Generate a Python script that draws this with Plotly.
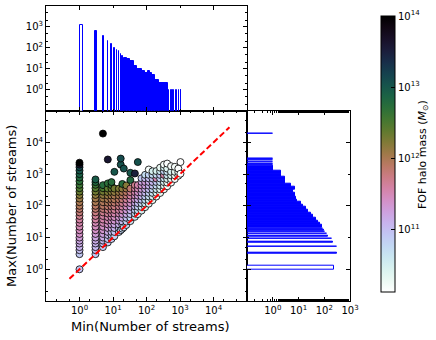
import math
import plotly.graph_objects as go

# ---------------- data ----------------
# y = x reference line
diag = [0.5, 3e4]

# scatter, grouped by Min(Number of streams)
col_min = [1, 3, 5, 7, 9, 11, 15, 17, 19, 21, 25, 33, 45, 55, 71, 91, 117,
           151, 197, 255, 331, 415, 541, 701, 891, 1031]
col_max = [
    [1, 3, 4, 5, 6.5, 8, 10, 13, 17, 22, 29, 37, 48, 62, 80, 100, 130, 170, 220,
     280, 360, 460, 600, 780, 1000, 1300, 1650, 2000, 2300],
    [3, 4, 5, 6.5, 8, 10, 13, 17, 22, 29, 37, 48, 62, 80, 100, 130, 170, 220,
     280, 360, 460, 560, 680],
    [5, 6.5, 8, 10, 13, 17, 22, 29, 37, 48, 62, 80, 100, 130, 170, 220, 280,
     360, 450, 19000],
    [7, 9, 12, 15, 20, 26, 34, 44, 57, 74, 96, 125, 160, 210, 270, 350, 510, 2900],
    [9, 12, 15, 20, 26, 34, 44, 57, 74, 96, 125, 160, 210, 270, 350, 450, 560],
    [11, 15, 20, 26, 34, 44, 57, 74, 96, 125, 160, 210, 270, 350, 1180],
    [15, 20, 26, 34, 44, 57, 74, 96, 125, 160, 210, 270, 350],
    [17, 2000, 3100],
    [19, 25, 32, 42, 55, 72, 94, 122, 160, 210, 270, 350, 490],
    [21, 1500],
    [25, 32, 42, 55, 72, 94, 122, 160, 210, 270, 350, 440],
    [33, 42, 55, 72, 94, 122, 160, 210, 270, 350, 650, 1100],
    [45, 57, 74, 96, 125, 160, 210, 270, 350, 450, 1050],
    [55, 72, 94, 122, 160, 210, 270, 350, 450, 2400],
    [71, 92, 120, 155, 200, 260, 340, 440, 570, 740],
    [91, 118, 153, 198, 257, 334, 434, 565, 735, 950],
    [117, 152, 198, 257, 334, 434, 565, 735, 955, 1400],
    [151, 196, 255, 331, 430, 560, 730, 950, 1230],
    [197, 256, 333, 433, 563, 732, 950, 1250],
    [255, 331, 430, 560, 728, 946, 1230, 1600],
    [331, 430, 560, 728, 946, 1230, 1600, 2000],
    [415, 540, 700, 910, 1180, 1500, 2150],
    [541, 700, 910, 1180, 1780],
    [701, 910, 1180, 1700],
    [891, 1150, 1500],
    [1031, 2400],
]
# log10 of FOF halo mass for each point above
col_mass = [
    [10.95, 10.9, 11.0, 11.1, 11.15, 11.2, 11.3, 11.4, 11.45, 11.5, 11.55, 11.6,
     11.7, 11.8, 11.85, 11.95, 12.0, 12.1, 12.2, 12.35, 12.5, 12.6, 12.7, 12.8,
     12.9, 13.0, 13.15, 13.6, 14.0],
    [10.9, 11.0, 11.05, 11.1, 11.15, 11.2, 11.3, 11.4, 11.45, 11.5, 11.6, 11.65,
     11.75, 11.85, 11.9, 12.0, 12.05, 12.15, 12.3, 12.45, 12.6, 12.8, 12.95],
    [10.9, 11.0, 11.05, 11.15, 11.25, 11.35, 11.4, 11.5, 11.55, 11.6, 11.7, 11.8,
     11.9, 11.95, 12.05, 12.15, 12.3, 12.5, 12.75, 14.0],
    [10.85, 10.95, 11.05, 11.15, 11.3, 11.4, 11.5, 11.55, 11.65, 11.75, 11.85,
     11.95, 12.0, 12.1, 12.25, 12.4, 12.7, 13.6],
    [10.85, 10.95, 11.05, 11.2, 11.3, 11.4, 11.5, 11.6, 11.7, 11.8, 11.9, 11.95,
     12.05, 12.2, 12.35, 12.6, 12.75],
    [10.8, 10.95, 11.1, 11.2, 11.35, 11.45, 11.55, 11.65, 11.75, 11.85, 11.95,
     12.0, 12.15, 12.3, 13.0],
    [10.8, 10.95, 11.1, 11.25, 11.35, 11.5, 11.6, 11.7, 11.8, 11.9, 12.0, 12.1, 12.25],
    [10.8, 13.05, 13.1],
    [10.75, 10.9, 11.05, 11.2, 11.35, 11.5, 11.6, 11.7, 11.8, 11.9, 12.0, 12.15, 12.75],
    [10.75, 13.05],
    [10.7, 10.85, 11.0, 11.15, 11.3, 11.45, 11.55, 11.65, 11.8, 11.9, 12.05, 12.2],
    [10.65, 10.8, 10.95, 11.1, 11.25, 11.4, 11.5, 11.6, 11.7, 11.85, 12.8, 13.0],
    [10.6, 10.75, 10.9, 11.05, 11.2, 11.35, 11.45, 11.55, 11.6, 11.7, 13.5],
    [10.55, 10.7, 10.85, 11.0, 11.15, 11.3, 11.4, 11.5, 11.55, 13.05],
    [10.5, 10.65, 10.8, 10.95, 11.1, 11.2, 11.3, 11.4, 11.2, 10.9],
    [10.45, 10.6, 10.75, 10.9, 11.05, 11.15, 11.25, 11.3, 11.0, 10.7],
    [10.4, 10.55, 10.7, 10.85, 11.0, 11.1, 11.15, 11.0, 10.8, 10.2],
    [10.35, 10.5, 10.65, 10.8, 10.95, 11.05, 10.95, 10.75, 10.5],
    [10.3, 10.45, 10.6, 10.75, 10.9, 11.5, 10.7, 10.45],
    [10.28, 10.4, 10.55, 10.7, 10.85, 10.9, 10.6, 10.3],
    [10.25, 10.35, 10.5, 10.65, 11.6, 10.8, 10.5, 10.2],
    [10.2, 10.3, 10.45, 10.6, 10.65, 10.4, 10.15],
    [10.2, 10.3, 10.45, 10.5, 10.2],
    [10.15, 10.25, 10.35, 10.2],
    [10.15, 10.2, 10.15],
    [10.12, 10.12],
]

# histogram of Min(Number of streams): bin edges and counts
min_bin_lo = [1, 3, 5, 7, 9, 11, 13, 15, 17, 19, 21, 27, 33, 41, 51, 75, 91, 111,
              127, 141, 181, 241, 465, 521, 591, 661, 741, 821, 931, 1041, 1101]
min_bin_hi = [1.3, 3.3, 5.3, 7.3, 9.3, 11.3, 13.3, 15.3, 17.3, 19.3, 27, 33, 41, 51,
              75, 91, 111, 127, 141, 181, 241, 441, 471, 527, 597, 667, 747, 827,
              937, 1047, 1107]
min_counts = [1260, 660, 375, 215, 155, 103, 79, 71, 53, 41, 34, 28, 23, 13, 10,
              8, 6, 8, 6, 5, 3, 2, 1, 1, 1, 1, 1, 1, 1, 1, 1]

# histogram of Max(Number of streams)
max_bin_lo = [1, 3, 5, 7, 9, 11, 13, 15, 17, 19, 21, 25, 29, 35, 41, 51, 61, 75, 91,
              111, 131, 161, 201, 261, 321, 401, 501, 651, 851, 1051, 1301, 1921,
              2161, 2441, 2751, 3101, 19501]
max_bin_hi = [1.3, 3.3, 5.3, 7.3, 9.3, 11.3, 13.3, 15.3, 17.3, 19.3, 25, 29, 35, 41,
              51, 61, 75, 91, 111, 131, 161, 201, 261, 321, 401, 501, 651, 851,
              1051, 1301, 1801, 1931, 2171, 2451, 2761, 3111, 19511]
max_counts = [230, 305, 325, 215, 196, 140, 125, 110, 100, 90, 83, 70, 58, 46, 38,
              30, 24, 19, 15, 12, 9, 8, 7, 6, 7, 5, 3, 3, 2, 2, 1, 1, 1, 1, 1, 1, 1]

decades = [1, 10, 100, 1000, 10000]
decade_text = ["10<sup>0</sup>", "10<sup>1</sup>", "10<sup>2</sup>",
               "10<sup>3</sup>", "10<sup>4</sup>"]
mass_ticks = [11, 12, 13, 14]
mass_text = ["10<sup>11</sup>", "10<sup>12</sup>", "10<sup>13</sup>", "10<sup>14</sup>"]


def cubehelix_r(n=25):
    # matplotlib's default cubehelix, reversed (white -> black)
    scale = []
    for i in range(n):
        t = i / (n - 1)
        lam = 1 - t
        phi = 2 * math.pi * (0.5 / 3 - 1.5 * lam)
        a = lam * (1 - lam) / 2
        c, s = math.cos(phi), math.sin(phi)
        r = lam + a * (-0.14861 * c + 1.78277 * s)
        g = lam + a * (-0.29227 * c - 0.90649 * s)
        b = lam + a * (1.97294 * c)
        rgb = [int(round(255 * min(1, max(0, v)))) for v in (r, g, b)]
        scale.append([t, "rgb(%d,%d,%d)" % tuple(rgb)])
    return scale


xs, ys, ms = [], [], []
for xv, yl, ml in zip(col_min, col_max, col_mass):
    xs += [xv] * len(yl)
    ys += yl
    ms += ml

W, H = 436, 340
font = dict(family="DejaVu Sans", size=10, color="black")
label_font = dict(family="DejaVu Sans", size=13, color="black")

fig = go.Figure()

fig.add_trace(go.Scatter(
    x=xs, y=ys, mode="markers", xaxis="x", yaxis="y",
    marker=dict(
        size=7, color=ms, colorscale=cubehelix_r(), cmin=10.12, cmax=14,
        line=dict(color="black", width=0.8),
        colorbar=dict(
            x=371 / W, xanchor="left", y=1 - 6 / H, yanchor="top",
            len=296 / H, lenmode="fraction", thickness=14, thicknessmode="pixels",
            outlinecolor="black", outlinewidth=1,
            tickvals=mass_ticks, ticktext=mass_text, ticks="inside",
            ticklen=4, tickcolor="black", tickfont=font,
        ),
    ),
    showlegend=False,
))

fig.add_trace(go.Scatter(
    x=diag, y=diag, mode="lines", xaxis="x", yaxis="y",
    line=dict(color="red", width=2, dash="6px,3px"), showlegend=False,
))

fill_top = ["white"] + ["blue"] * (len(min_counts) - 1)
fig.add_trace(go.Bar(
    x=min_bin_lo, y=min_counts,
    width=[h - l for l, h in zip(min_bin_lo, min_bin_hi)], offset=0,
    xaxis="x2", yaxis="y2",
    marker=dict(color=fill_top, line=dict(color="blue", width=1)),
    showlegend=False,
))

fill_right = ["white"] + ["blue"] * (len(max_counts) - 1)
fig.add_trace(go.Bar(
    y=max_bin_lo, x=max_counts, orientation="h",
    width=[h - l for l, h in zip(max_bin_lo, max_bin_hi)], offset=0,
    xaxis="x3", yaxis="y3",
    marker=dict(color=fill_right, line=dict(color="blue", width=1)),
    showlegend=False,
))

ax = dict(
    type="log", showline=True, linecolor="black", linewidth=1, mirror="allticks",
    ticks="inside", ticklen=4, tickcolor="black", showgrid=False, zeroline=False,
    tickfont=font,
    minor=dict(ticks="inside", ticklen=2, tickcolor="black", showgrid=False),
)

x_main = [46 / W, 247 / W]
y_main = [1 - 301 / H, 1 - 110.7 / H]

fig.update_layout(
    width=W, height=H, autosize=False,
    margin=dict(l=0, r=0, t=0, b=0),
    paper_bgcolor="white", plot_bgcolor="white",
    template="none",
    bargap=0,
    xaxis=dict(ax, domain=x_main, range=[-1, 5], anchor="y",
               tickvals=decades, ticktext=decade_text),
    yaxis=dict(ax, domain=y_main, range=[-1, 5], anchor="x",
               tickvals=decades, ticktext=decade_text),
    xaxis2=dict(ax, domain=x_main, range=[-1, 5], anchor="y2",
                showticklabels=False),
    yaxis2=dict(ax, domain=[1 - 110.7 / H, 1 - 6 / H], range=[-1, 4], anchor="x2",
                tickvals=decades[:4], ticktext=decade_text[:4]),
    xaxis3=dict(ax, domain=[247 / W, 350 / W], range=[-1, 3], anchor="y3",
                tickvals=decades[:4], ticktext=decade_text[:4]),
    yaxis3=dict(ax, domain=y_main, range=[-1, 5], anchor="x3",
                showticklabels=False),
    annotations=[
        dict(text="Min(Number of streams)", xref="paper", yref="paper",
             x=150 / W, y=1 - 326.5 / H, xanchor="center", yanchor="middle",
             showarrow=False, font=label_font),
        dict(text="Max(Number of streams)", xref="paper", yref="paper",
             x=12 / W, y=1 - 206 / H, xanchor="center", yanchor="middle",
             textangle=-90, showarrow=False, font=label_font),
        dict(text="FOF halo mass (<i>M</i><sub>⊙</sub>)", xref="paper",
             yref="paper", x=423 / W, y=1 - 155 / H, xanchor="center",
             yanchor="middle", textangle=-90, showarrow=False,
             font=dict(family="DejaVu Sans", size=11, color="black")),
    ],
)

# drop the browser's default page margin so the figure sits at the top-left corner
fig.write_html("out.html", config={"displayModeBar": False},
               post_script="document.body.style.margin = '0';")
